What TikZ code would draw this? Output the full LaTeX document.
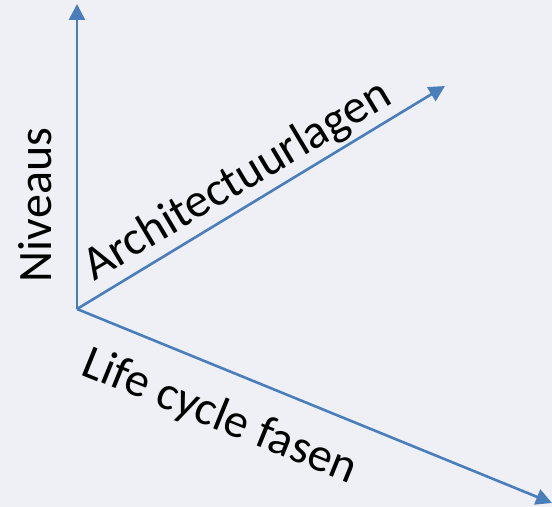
\documentclass[tikz,border=0pt]{standalone}
\usepackage{fontspec}
\setmainfont{Carlito}
\usetikzlibrary{arrows.meta}
\definecolor{axisblue}{RGB}{74,126,187}
\definecolor{paper}{RGB}{238,240,245}

\begin{document}
\begin{tikzpicture}[x=0.5pt, y=-0.5pt,
		axis/.style={line width=1.3pt, color=axisblue, -{Triangle[length=8pt, width=8pt]}},
		axislabel/.style={font=\fontsize{24}{28}\selectfont, inner sep=0pt, anchor=base}]
		%%%%% START %%%%%
		
		\fill[paper] (0, 0) rectangle (552, 507);
		\useasboundingbox (0, 0) rectangle (552, 507);
		
		\coordinate (o) at (77, 309);
		\coordinate (niveaus) at (77, 4);
		\coordinate (lagen) at (445, 86);
		\coordinate (fasen) at (552, 503);
		
		\draw[axis] (o) -- (niveaus);
		\draw[axis] (o) -- (lagen);
		\draw[axis] (o) -- (fasen);
		
		\node[axislabel, rotate=90] (niv) at (51, 205) {Niveaus};
		\node[axislabel, rotate=30.8] (arch) at (244, 192) {Architectuurlagen};
		\node[axislabel, rotate=-22.1] (life) at (215, 429) {Life cycle fasen};
		
		%%%%% END %%%%%
\end{tikzpicture}
\end{document}
